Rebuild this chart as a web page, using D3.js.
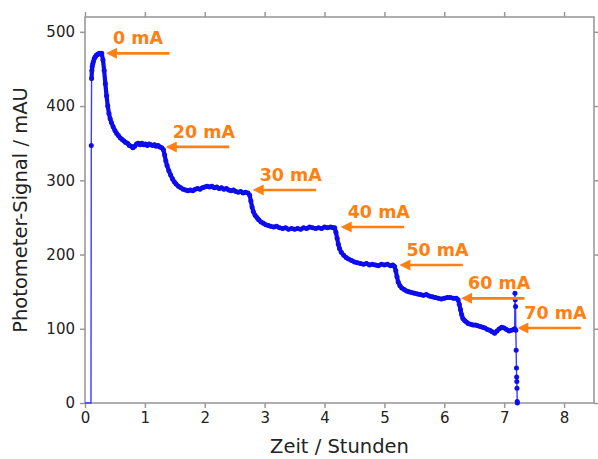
<!DOCTYPE html>
<html lang="de">
  <head>
    <meta charset="UTF-8" />
    <script src="https://d3js.org/d3.v7.min.js"></script>
    <style>
      body {
        margin: 0;
        background: #fff;
      }
      svg text {
        font-family: "DejaVu Sans", Verdana, sans-serif;
      }
      .tick text {
        font-size: 15px;
        fill: #222;
      }
      .tick line {
        stroke: #999;
        stroke-width: 1.5;
      }
      .annot {
        font-size: 17.5px;
        font-weight: bold;
        fill: #ff8010;
      }
    </style>
  </head>
  <body>
    <div id="chart"></div>
    <script>
      // Messwerte: Zeit in Stunden, Signal in mAU
      var hours = [
        0, 0.10, 0.105, 0.11, 0.115, 0.12, 0.13, 0.14, 0.155, 0.17,
        0.185, 0.20, 0.22, 0.24, 0.26, 0.28, 0.30, 0.32, 0.34, 0.36,
        0.38, 0.40, 0.42, 0.44, 0.47, 0.50, 0.53, 0.56, 0.59, 0.62,
        0.65, 0.68, 0.71, 0.74, 0.77, 0.80, 0.83, 0.86, 0.89, 0.92,
        0.95, 0.98, 1.01, 1.04, 1.07, 1.10, 1.13, 1.16, 1.19, 1.22,
        1.25, 1.28, 1.31, 1.33, 1.35, 1.37, 1.40, 1.43, 1.46, 1.49,
        1.52, 1.56, 1.60, 1.64, 1.68, 1.72, 1.76, 1.80, 1.84, 1.88,
        1.92, 1.96, 2.00, 2.04, 2.08, 2.12, 2.16, 2.20, 2.24, 2.28,
        2.32, 2.36, 2.40, 2.44, 2.48, 2.52, 2.56, 2.60, 2.64, 2.68,
        2.72, 2.75, 2.77, 2.79, 2.81, 2.84, 2.87, 2.90, 2.94, 2.98,
        3.02, 3.06, 3.10, 3.15, 3.20, 3.25, 3.30, 3.35, 3.40, 3.45,
        3.50, 3.55, 3.60, 3.65, 3.70, 3.75, 3.80, 3.85, 3.90, 3.95,
        4.00, 4.05, 4.10, 4.14, 4.17, 4.19, 4.21, 4.23, 4.25, 4.28,
        4.32, 4.36, 4.40, 4.45, 4.50, 4.55, 4.60, 4.65, 4.70, 4.75,
        4.80, 4.85, 4.90, 4.95, 5.00, 5.05, 5.10, 5.14, 5.17, 5.19,
        5.21, 5.23, 5.26, 5.29, 5.33, 5.37, 5.41, 5.45, 5.50, 5.55,
        5.60, 5.65, 5.70, 5.75, 5.80, 5.85, 5.90, 5.95, 6.00, 6.05,
        6.10, 6.15, 6.20, 6.23, 6.25, 6.27, 6.29, 6.31, 6.34, 6.37,
        6.40, 6.44, 6.48, 6.52, 6.56, 6.60, 6.64, 6.68, 6.72, 6.76,
        6.80, 6.84, 6.88, 6.92, 6.96, 7.00, 7.04, 7.08, 7.12, 7.16,
        7.175, 7.18, 7.185, 7.19, 7.195, 7.20, 7.205, 7.208, 7.211, 7.214,
        7.218, 7.22
      ];
      var signal = [
        0, 0, 347, 437, 448, 453, 457, 460, 464, 466,
        468, 469, 470, 471, 470, 471, 462, 448, 430, 414,
        400, 390, 383, 378, 372, 367, 363, 360, 357, 355,
        353, 351, 350, 347, 346, 344, 346, 349, 350, 348,
        350, 348, 349, 347, 349, 348, 347, 348, 346, 347,
        345, 344, 341, 334, 326, 320, 313, 307, 302, 298,
        295, 292, 290, 288, 287, 286, 287, 286, 288, 289,
        288, 290, 291, 292, 291, 292, 290, 291, 289, 290,
        288, 289, 287, 286, 287, 285, 284, 285, 283, 284,
        283, 280, 272, 264, 258, 253, 250, 247, 244, 242,
        240, 239, 238, 237, 238, 236, 235, 236, 234, 235,
        234, 235, 234, 236, 235, 237, 236, 235, 236, 235,
        237, 236, 237, 236, 236, 230, 222, 214, 208, 203,
        199, 196, 194, 192, 190, 189, 188, 187, 188, 186,
        187, 186, 185, 187, 186, 187, 185, 186, 184, 178,
        170, 163, 158, 155, 153, 151, 150, 149, 148, 147,
        146, 145, 146, 144, 143, 142, 141, 140, 141, 142,
        142, 141, 141, 139, 133, 126, 119, 114, 111, 109,
        107, 106, 105, 105, 104, 103, 102, 101, 99, 98,
        96, 94, 97, 100, 102, 101, 99, 97, 98, 99,
        100, 148, 139, 130, 98, 71, 47, 35, 29, 20,
        2, 0
      ];

      // Pfeile: Stromstaerke, Spitze des Pfeils (Zeit, Signal)
      var currents = ["0 mA", "20 mA", "30 mA", "40 mA", "50 mA", "60 mA", "70 mA"];
      var arrowHours = [0.35, 1.35, 2.80, 4.27, 5.25, 6.28, 7.22];
      var arrowSignal = [471, 345, 287, 237, 186, 141, 101];
      var arrowLength = 1.06; // in Stunden

      var xTicks = [0, 1, 2, 3, 4, 5, 6, 7, 8];
      var yTicks = [0, 100, 200, 300, 400, 500];

      var width = 598;
      var height = 459;
      var margin = { top: 17, right: 4, bottom: 56, left: 85 };
      var innerW = width - margin.left - margin.right;
      var innerH = height - margin.top - margin.bottom;

      var svg = d3
        .select("#chart")
        .append("svg")
        .attr("width", width)
        .attr("height", height);

      var g = svg
        .append("g")
        .attr("transform", "translate(" + margin.left + "," + margin.top + ")");

      var x = d3.scaleLinear().domain([0, 8.5]).range([0, innerW]);
      var y = d3.scaleLinear().domain([0, 520]).range([innerH, 0]);

      var data = hours.map(function (h, i) {
        return { t: h, v: signal[i] };
      });

      // Achsen (alle vier Seiten, Ticks nach aussen)
      g.append("g")
        .attr("transform", "translate(0," + innerH + ")")
        .call(d3.axisBottom(x).tickValues(xTicks).tickSize(5).tickPadding(4))
        .call(function (a) { a.select(".domain").remove(); });
      g.append("g")
        .call(d3.axisLeft(y).tickValues(yTicks).tickSize(5).tickPadding(5))
        .call(function (a) { a.select(".domain").remove(); });
      g.append("g")
        .call(d3.axisTop(x).tickValues(xTicks).tickSize(5).tickFormat(""))
        .call(function (a) { a.select(".domain").remove(); });
      g.append("g")
        .attr("transform", "translate(" + innerW + ",0)")
        .call(d3.axisRight(y).tickValues(yTicks).tickSize(4).tickFormat(""))
        .call(function (a) { a.select(".domain").remove(); });

      g.append("rect")
        .attr("width", innerW)
        .attr("height", innerH)
        .attr("fill", "none")
        .attr("stroke", "#9a9a9a")
        .attr("stroke-width", 1.6);

      // Messkurve
      var line = d3
        .line()
        .x(function (d) { return x(d.t); })
        .y(function (d) { return y(d.v); });

      g.append("path")
        .datum(data)
        .attr("d", line)
        .attr("fill", "none")
        .attr("stroke", "#3b3bff")
        .attr("stroke-width", 1.4);

      // dichte Messpunkte wirken wie eine dicke Linie
      g.append("path")
        .datum(data.slice(3, 201))
        .attr("d", line)
        .attr("fill", "none")
        .attr("stroke", "#0c0cee")
        .attr("stroke-width", 4.2)
        .attr("stroke-linejoin", "round")
        .attr("stroke-linecap", "round");

      g.selectAll("circle.pt")
        .data(data.slice(2))
        .enter()
        .append("circle")
        .attr("class", "pt")
        .attr("cx", function (d) { return x(d.t); })
        .attr("cy", function (d) { return y(d.v); })
        .attr("r", 2.5)
        .attr("fill", "#0c0cee");

      // Pfeile mit Beschriftung
      var orange = "#ff8010";
      currents.forEach(function (label, i) {
        var tx = x(arrowHours[i]);
        var ty = y(arrowSignal[i]);
        var ex = x(arrowHours[i] + arrowLength);
        g.append("line")
          .attr("x1", tx + 8)
          .attr("x2", ex)
          .attr("y1", ty)
          .attr("y2", ty)
          .attr("stroke", orange)
          .attr("stroke-width", 2.6);
        g.append("path")
          .attr("d", "M" + tx + "," + ty + "L" + (tx + 11) + "," + (ty - 5.5) + "L" + (tx + 11) + "," + (ty + 5.5) + "Z")
          .attr("fill", orange);
        g.append("text")
          .attr("class", "annot")
          .attr("x", tx + 7)
          .attr("y", ty - 9)
          .text(label);
      });

      // Achsentitel
      svg
        .append("text")
        .attr("x", margin.left + innerW / 2)
        .attr("y", 453)
        .attr("text-anchor", "middle")
        .style("font-size", "19.5px")
        .style("fill", "#222")
        .text("Zeit / Stunden");

      svg
        .append("text")
        .attr("transform", "translate(27," + (margin.top + innerH / 2) + ") rotate(-90)")
        .attr("text-anchor", "middle")
        .style("font-size", "19.5px")
        .style("fill", "#222")
        .text("Photometer-Signal / mAU");
    </script>
  </body>
</html>
